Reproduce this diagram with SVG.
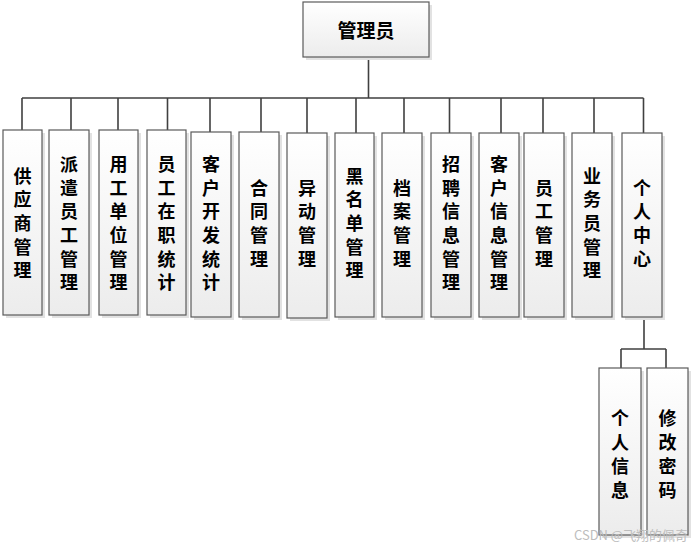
<svg xmlns="http://www.w3.org/2000/svg" width="693" height="550" viewBox="0 0 693 550">
<defs>
<linearGradient id="g" x1="0" y1="0" x2="0" y2="1">
<stop offset="0" stop-color="#ffffff"/>
<stop offset="1" stop-color="#ececec"/>
</linearGradient>
<style>
.sh{fill:#e2e2e2;}
.box{fill:url(#g);stroke:#5a5a5a;stroke-width:1.2;}
.t{font-family:"Noto Sans CJK SC","Noto Sans CJK JP",sans-serif;font-weight:bold;font-size:18px;fill:#000;text-anchor:middle;dominant-baseline:central;}
.c{fill:none;stroke:#404040;stroke-width:1.6;}
.wm{font-family:"Noto Sans CJK SC",sans-serif;font-size:13px;fill:#bdbdbd;}
</style>
</defs>
<rect width="693" height="550" fill="#fff"/>
<g id="connectors">
<path class="c" d="M368.5 57V98M22 98H643.5"/>
<path class="c" d="M22 98V130M71 98V130M118 98V130M167.5 98V130M210 98V132M261 98V132M307 98V133M356 98V133M404 98V133M449.5 98V133M501 98V133M543 98V133M594 98V133M643.5 98V133"/>
<path class="c" d="M644 317V349M621 349H666M621 349V368M666 349V368"/>
</g>
<g id="root"><rect class="sh" x="306" y="5" width="126" height="55"/><rect class="box" x="303" y="2" width="126" height="55"/><text class="t" x="366" y="29" style="font-size:19px">管理员</text></g>
<g id="n1"><rect class="sh" x="6" y="133" width="39" height="185"/><rect class="box" x="3" y="130" width="39" height="185"/><text class="t"><tspan x="22.5" y="174.6">供</tspan><tspan x="22.5" y="198.3">应</tspan><tspan x="22.5" y="222">商</tspan><tspan x="22.5" y="245.7">管</tspan><tspan x="22.5" y="269.4">理</tspan></text></g>
<g id="n2"><rect class="sh" x="52" y="133" width="40" height="185"/><rect class="box" x="49" y="130" width="40" height="185"/><text class="t"><tspan x="69" y="162.8">派</tspan><tspan x="69" y="186.5">遣</tspan><tspan x="69" y="210.2">员</tspan><tspan x="69" y="233.9">工</tspan><tspan x="69" y="257.6">管</tspan><tspan x="69" y="281.3">理</tspan></text></g>
<g id="n3"><rect class="sh" x="102" y="133" width="39" height="185"/><rect class="box" x="99" y="130" width="39" height="185"/><text class="t"><tspan x="118.5" y="162.8">用</tspan><tspan x="118.5" y="186.5">工</tspan><tspan x="118.5" y="210.2">单</tspan><tspan x="118.5" y="233.9">位</tspan><tspan x="118.5" y="257.6">管</tspan><tspan x="118.5" y="281.3">理</tspan></text></g>
<g id="n4"><rect class="sh" x="150" y="133" width="39" height="185"/><rect class="box" x="147" y="130" width="39" height="185"/><text class="t"><tspan x="166.5" y="162.8">员</tspan><tspan x="166.5" y="186.5">工</tspan><tspan x="166.5" y="210.2">在</tspan><tspan x="166.5" y="233.9">职</tspan><tspan x="166.5" y="257.6">统</tspan><tspan x="166.5" y="281.3">计</tspan></text></g>
<g id="n5"><rect class="sh" x="194" y="135" width="40" height="185"/><rect class="box" x="191" y="132" width="40" height="185"/><text class="t"><tspan x="211" y="162.8">客</tspan><tspan x="211" y="186.5">户</tspan><tspan x="211" y="210.2">开</tspan><tspan x="211" y="233.9">发</tspan><tspan x="211" y="257.6">统</tspan><tspan x="211" y="281.3">计</tspan></text></g>
<g id="n6"><rect class="sh" x="242" y="135" width="40" height="185"/><rect class="box" x="239" y="132" width="40" height="185"/><text class="t"><tspan x="259" y="186.5">合</tspan><tspan x="259" y="210.2">同</tspan><tspan x="259" y="233.9">管</tspan><tspan x="259" y="257.6">理</tspan></text></g>
<g id="n7"><rect class="sh" x="290" y="136" width="40" height="185"/><rect class="box" x="287" y="133" width="40" height="185"/><text class="t"><tspan x="307" y="186.5">异</tspan><tspan x="307" y="210.2">动</tspan><tspan x="307" y="233.9">管</tspan><tspan x="307" y="257.6">理</tspan></text></g>
<g id="n8"><rect class="sh" x="338" y="136" width="39" height="184"/><rect class="box" x="335" y="133" width="39" height="184"/><text class="t"><tspan x="354.5" y="174.6">黑</tspan><tspan x="354.5" y="198.3">名</tspan><tspan x="354.5" y="222">单</tspan><tspan x="354.5" y="245.7">管</tspan><tspan x="354.5" y="269.4">理</tspan></text></g>
<g id="n9"><rect class="sh" x="385" y="136" width="40" height="184"/><rect class="box" x="382" y="133" width="40" height="184"/><text class="t"><tspan x="402" y="186.5">档</tspan><tspan x="402" y="210.2">案</tspan><tspan x="402" y="233.9">管</tspan><tspan x="402" y="257.6">理</tspan></text></g>
<g id="n10"><rect class="sh" x="434" y="136" width="40" height="184"/><rect class="box" x="431" y="133" width="40" height="184"/><text class="t"><tspan x="451" y="162.8">招</tspan><tspan x="451" y="186.5">聘</tspan><tspan x="451" y="210.2">信</tspan><tspan x="451" y="233.9">息</tspan><tspan x="451" y="257.6">管</tspan><tspan x="451" y="281.3">理</tspan></text></g>
<g id="n11"><rect class="sh" x="482" y="136" width="40" height="184"/><rect class="box" x="479" y="133" width="40" height="184"/><text class="t"><tspan x="499" y="162.8">客</tspan><tspan x="499" y="186.5">户</tspan><tspan x="499" y="210.2">信</tspan><tspan x="499" y="233.9">息</tspan><tspan x="499" y="257.6">管</tspan><tspan x="499" y="281.3">理</tspan></text></g>
<g id="n12"><rect class="sh" x="527" y="136" width="40" height="184"/><rect class="box" x="524" y="133" width="40" height="184"/><text class="t"><tspan x="544" y="186.5">员</tspan><tspan x="544" y="210.2">工</tspan><tspan x="544" y="233.9">管</tspan><tspan x="544" y="257.6">理</tspan></text></g>
<g id="n13"><rect class="sh" x="575" y="136" width="40" height="184"/><rect class="box" x="572" y="133" width="40" height="184"/><text class="t"><tspan x="592" y="174.6">业</tspan><tspan x="592" y="198.3">务</tspan><tspan x="592" y="222">员</tspan><tspan x="592" y="245.7">管</tspan><tspan x="592" y="269.4">理</tspan></text></g>
<g id="n14"><rect class="sh" x="625" y="136" width="40" height="184"/><rect class="box" x="622" y="133" width="40" height="184"/><text class="t"><tspan x="642" y="186.5">个</tspan><tspan x="642" y="210.2">人</tspan><tspan x="642" y="233.9">中</tspan><tspan x="642" y="257.6">心</tspan></text></g>
<g id="n15"><rect class="sh" x="602" y="371" width="42" height="167"/><rect class="box" x="599" y="368" width="42" height="167"/><text class="t"><tspan x="620" y="416.5">个</tspan><tspan x="620" y="440.5">人</tspan><tspan x="620" y="464.5">信</tspan><tspan x="620" y="488.5">息</tspan></text></g>
<g id="n16"><rect class="sh" x="650" y="371" width="41" height="167"/><rect class="box" x="647" y="368" width="41" height="167"/><text class="t"><tspan x="667.5" y="416.5">修</tspan><tspan x="667.5" y="440.5">改</tspan><tspan x="667.5" y="464.5">密</tspan><tspan x="667.5" y="488.5">码</tspan></text></g>
<text class="wm" x="574" y="540" textLength="114" lengthAdjust="spacingAndGlyphs">CSDN @飞翔的佩奇</text>
</svg>
